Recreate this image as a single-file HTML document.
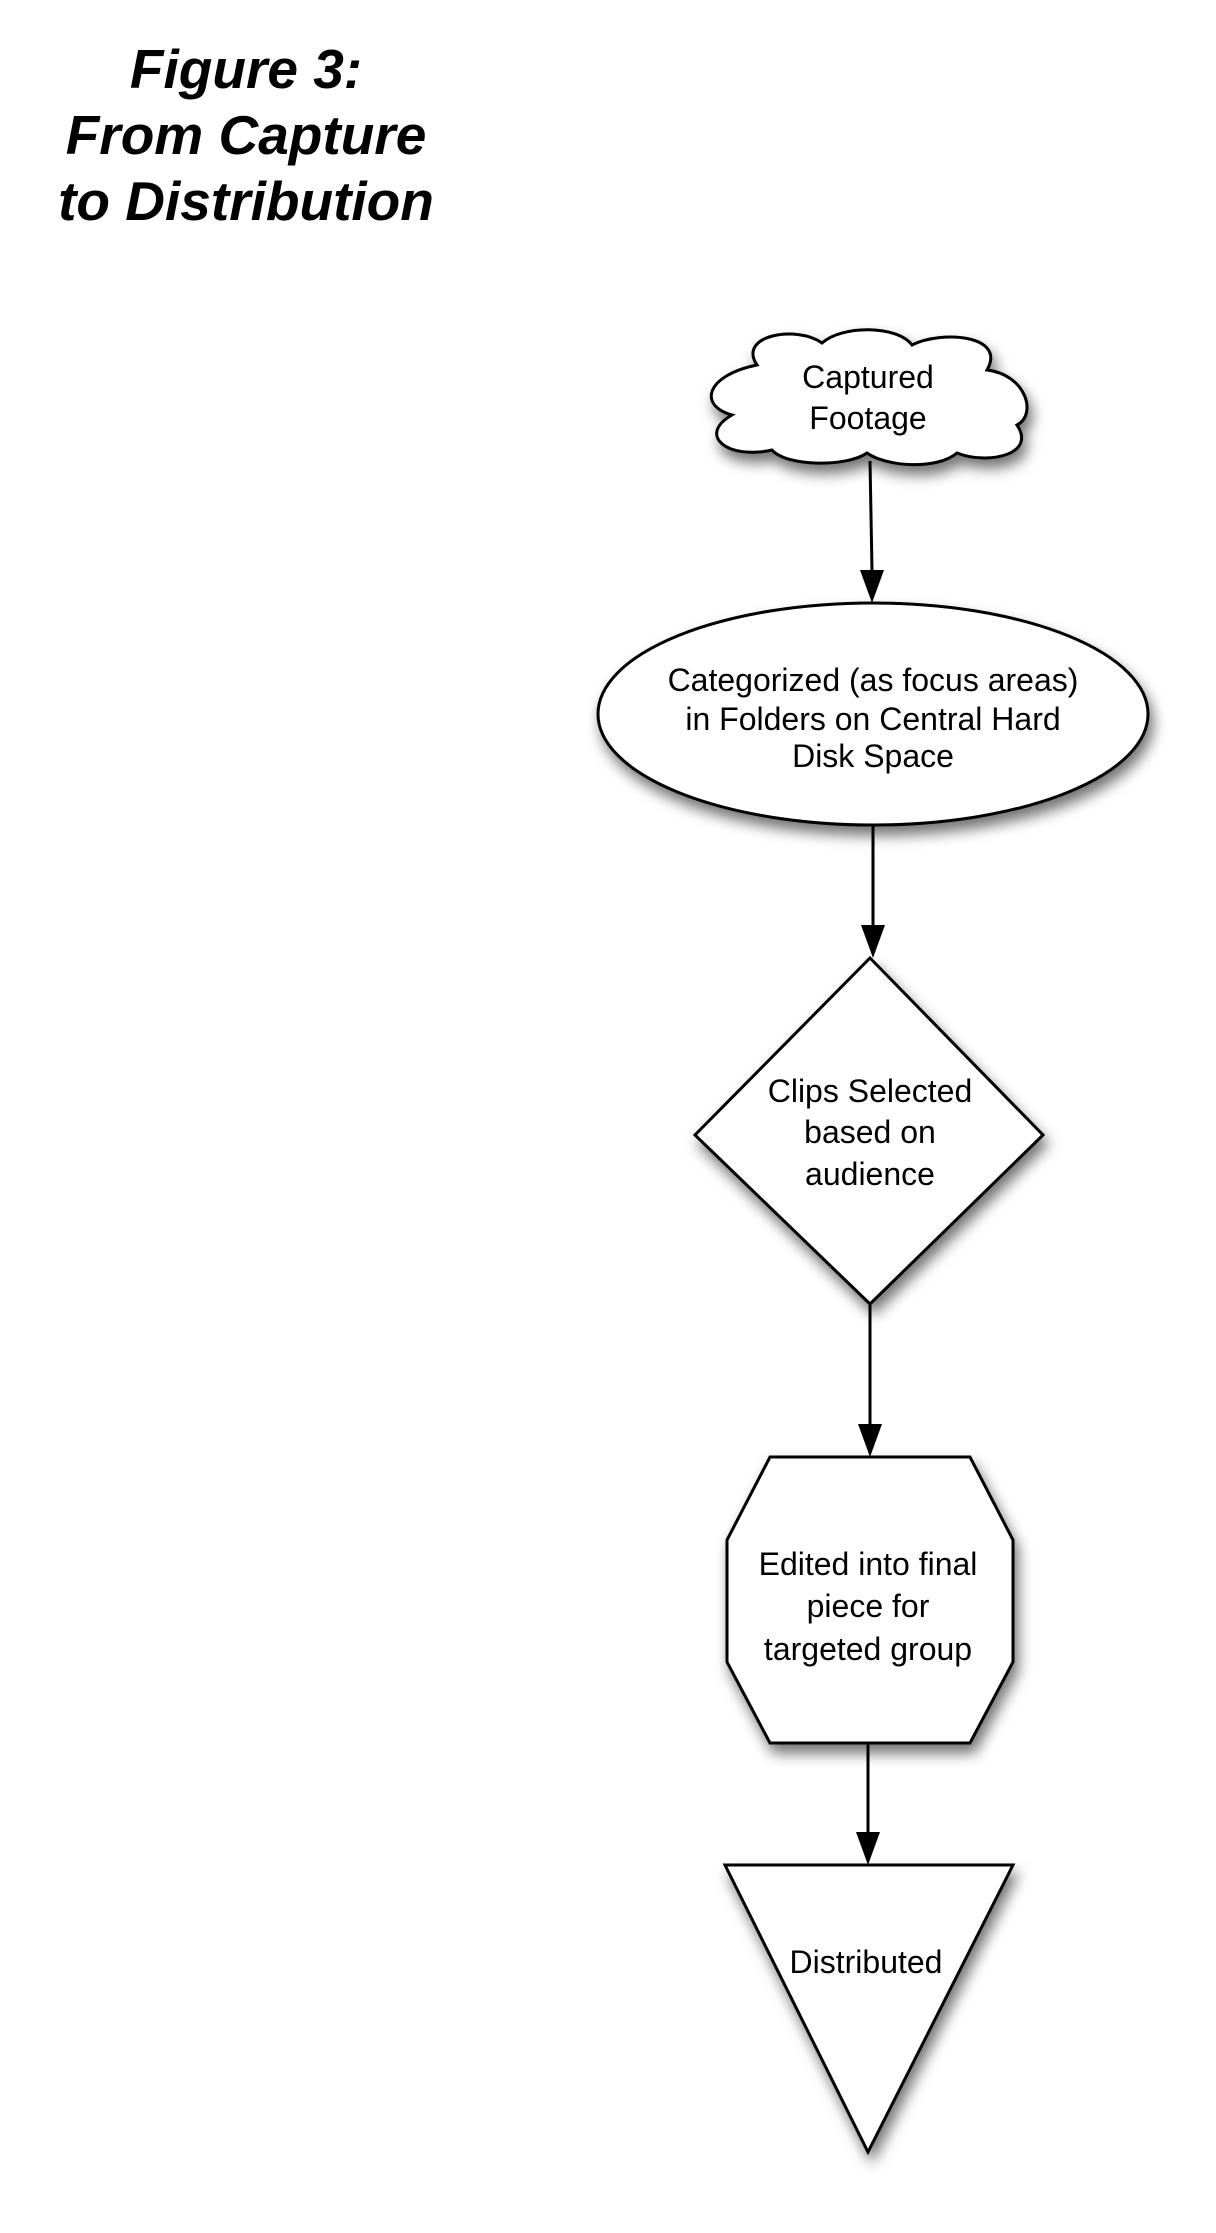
<!DOCTYPE html>
<html><head><meta charset="utf-8"><style>
html,body{margin:0;padding:0;background:#fff;}
svg{display:block}
</style></head><body>
<svg width="1216" height="2233" viewBox="0 0 1216 2233" xmlns="http://www.w3.org/2000/svg">
<defs>
<filter id="sh" x="-20%" y="-20%" width="150%" height="150%">
<feDropShadow dx="4" dy="9" stdDeviation="7" flood-color="#000" flood-opacity="0.55"/>
</filter>
</defs>
<g font-family="Liberation Sans, sans-serif" font-weight="bold" font-style="italic" font-size="55" text-anchor="middle" fill="#000">
<text x="246" y="88">Figure 3:</text>
<text x="246" y="154">From Capture</text>
<text x="246" y="220">to Distribution</text>
</g>
<g transform="translate(-3,-5)">
<g stroke="#000" stroke-width="3" fill="#fff">
<path filter="url(#sh)" d="M760,370 C740,340 800,330 825,348 C845,330 900,330 915,350 C945,335 1010,340 990,375 C1030,380 1040,420 1020,430 C1040,460 990,470 960,458 C940,475 890,472 870,458 C850,472 790,472 775,455 C730,465 700,440 735,420 C700,410 710,380 760,370 Z"/>
<ellipse filter="url(#sh)" cx="876" cy="719" rx="275" ry="111"/>
<polygon filter="url(#sh)" points="873,963 1046,1140 873,1309 698,1140"/>
<polygon filter="url(#sh)" points="773,1462 973,1462 1016,1545 1016,1667 973,1748 773,1748 730,1667 730,1545"/>
<polygon filter="url(#sh)" points="728,1870 1016,1870 871,2157"/>
</g>
<g stroke="#000" stroke-width="3" fill="none">
<line x1="873" y1="466" x2="875" y2="575"/>
<line x1="876" y1="831" x2="876" y2="930"/>
<line x1="873" y1="1310" x2="873" y2="1429"/>
<line x1="871" y1="1749" x2="871" y2="1837"/>
</g>
<g fill="#000">
<polygon points="863,575 887,575 875,608"/>
<polygon points="864,930 888,930 876,963"/>
<polygon points="861,1429 885,1429 873,1462"/>
<polygon points="859,1837 883,1837 871,1870"/>
</g>
<g font-family="Liberation Sans, sans-serif" font-size="32" text-anchor="middle" fill="#000">
<text x="871" y="393">Captured</text>
<text x="871" y="434">Footage</text>
<text x="876" y="696">Categorized (as focus areas)</text>
<text x="876" y="735">in Folders on Central Hard</text>
<text x="876" y="772">Disk Space</text>
<text x="873" y="1107">Clips Selected</text>
<text x="873" y="1148">based on</text>
<text x="873" y="1190">audience</text>
<text x="871" y="1580">Edited into final</text>
<text x="871" y="1622">piece for</text>
<text x="871" y="1665">targeted group</text>
<text x="869" y="1978">Distributed</text>
</g>
</g>
</svg>
</body></html>
